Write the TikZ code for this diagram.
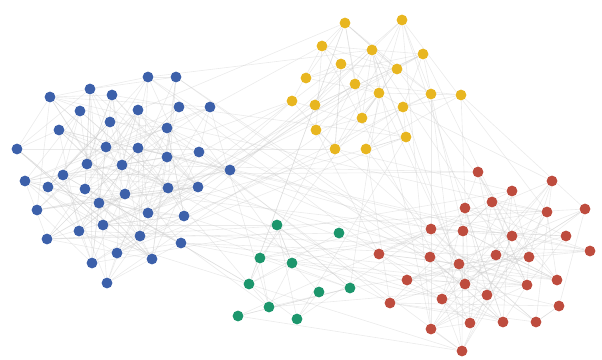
\documentclass[tikz,border=0pt]{standalone}
\usepackage{tikz}
\usetikzlibrary{backgrounds}

\definecolor{nodeblue}{RGB}{60,96,170}
\definecolor{nodeyellow}{RGB}{232,182,32}
\definecolor{nodered}{RGB}{190,76,62}
\definecolor{nodegreen}{RGB}{28,150,108}

\begin{document}
\begin{tikzpicture}[x=0.5pt, y=-0.5pt,
    dot/.style={circle, inner sep=0pt, minimum size=5.4pt},
    link/.style={line width=0.3pt, draw=gray!40, opacity=0.4}]
        \useasboundingbox (0,0) rectangle (602,360);

        % blue cluster
        \foreach \n/\x/\y in {1/148/77, 2/176/77, 3/50/97, 4/90/89, 5/112/95,
            6/80/111, 7/138/110, 8/179/107, 9/210/107, 10/59/130,
            11/110/122, 12/167/128, 13/17/149, 14/106/147, 15/138/148,
            16/167/157, 17/199/152, 18/87/164, 19/122/165, 20/63/175,
            21/230/170, 22/25/181, 23/48/187, 24/85/189, 25/125/194,
            26/168/188, 27/198/187, 28/99/203, 29/37/210, 30/148/213,
            31/184/216, 32/79/231, 33/103/225, 34/140/236, 35/47/239,
            36/181/243, 37/117/253, 38/152/259, 39/92/263, 40/107/283}
            \node[dot, fill=nodeblue] (b\n) at (\x,\y) {};

        % yellow cluster
        \foreach \n/\x/\y in {1/345/23, 2/402/20, 3/322/46, 4/372/50, 5/423/54,
            6/341/64, 7/397/69, 8/306/78, 9/355/84, 10/379/93,
            11/431/94, 12/461/95, 13/292/101, 14/315/105, 15/403/107,
            16/362/118, 17/316/130, 18/406/137, 19/335/149, 20/366/149}
            \node[dot, fill=nodeyellow] (y\n) at (\x,\y) {};

        % red cluster
        \foreach \n/\x/\y in {1/478/172, 2/552/181, 3/512/191, 4/492/202, 5/465/208,
            6/547/212, 7/585/209, 8/431/229, 9/463/231, 10/512/236,
            11/566/236, 12/379/254, 13/430/257, 14/459/264, 15/496/255,
            16/529/257, 17/590/251, 18/407/280, 19/465/284, 20/527/285,
            21/557/280, 22/390/303, 23/442/299, 24/487/295, 25/559/306,
            26/431/329, 27/470/323, 28/503/322, 29/536/322, 30/462/351}
            \node[dot, fill=nodered] (r\n) at (\x,\y) {};

        % green cluster
        \foreach \n/\x/\y in {1/277/225, 2/339/233, 3/260/258, 4/292/263, 5/249/284,
            6/319/292, 7/350/288, 8/269/307, 9/238/316, 10/297/319}
            \node[dot, fill=nodegreen] (g\n) at (\x,\y) {};

        % links
        \pgfmathsetseed{42}
        \begin{scope}[on background layer]
            % inside the clusters
            \foreach \c/\cn/\m in {b/40/4, y/20/3, r/30/3, g/10/2} {
                \foreach \i in {1,...,\cn} {
                    \foreach \k in {1,...,\m} {
                        \pgfmathtruncatemacro{\j}{random(1,\cn)}
                        \ifnum\j=\i\else
                            \draw[link] (\c\i) -- (\c\j);
                        \fi
                    }
                }
            }
            % between the clusters
            \foreach \a/\na/\b/\nb/\m in {b/40/y/20/22, b/40/r/30/26, b/40/g/10/10,
                y/20/r/30/22, y/20/g/10/6, r/30/g/10/12} {
                \foreach \k in {1,...,\m} {
                    \pgfmathtruncatemacro{\i}{random(1,\na)}
                    \pgfmathtruncatemacro{\j}{random(1,\nb)}
                    \draw[link] (\a\i) -- (\b\j);
                }
            }
        \end{scope}
\end{tikzpicture}
\end{document}
